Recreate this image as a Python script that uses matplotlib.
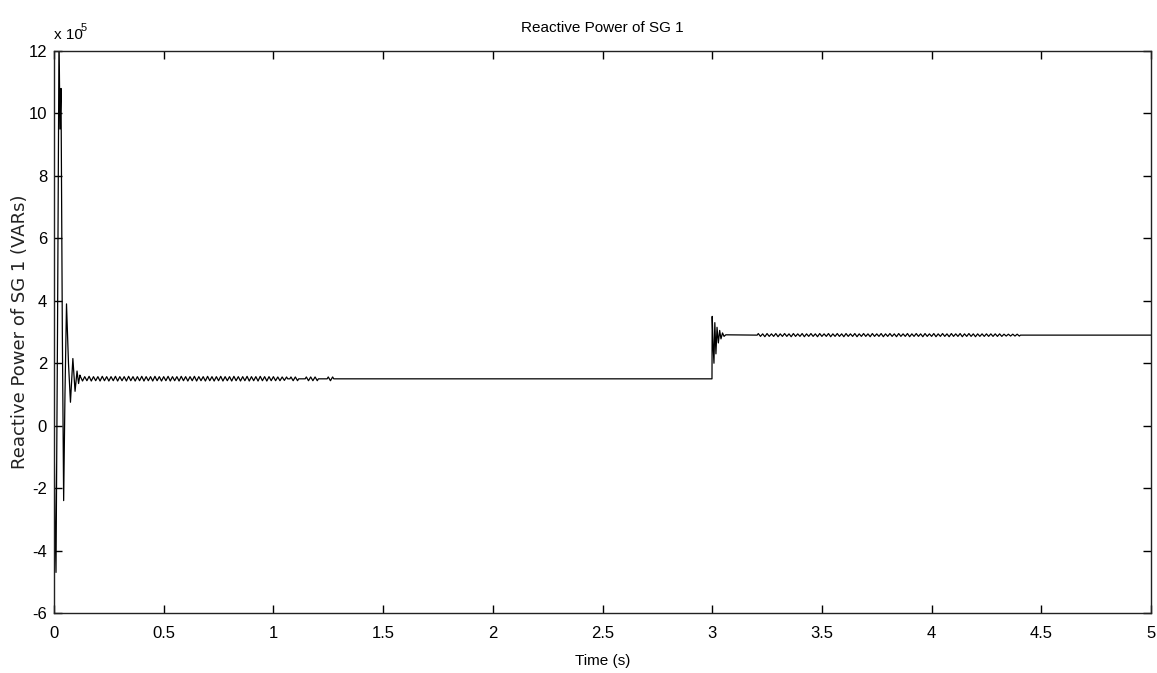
import numpy as np
import matplotlib
matplotlib.use("Agg")
import matplotlib.pyplot as plt

# ---------------- data (reactive power in units of 1e5 VAR) ----------------
# initial transient (time s, value)
t_start = [0, 0.0046, 0.0091, 0.016, 0.0228, 0.0273, 0.0319, 0.038, 0.044,
           0.050, 0.057, 0.066, 0.075, 0.086, 0.096, 0.105, 0.112, 0.118]
q_start = [0, -3.0, -4.7, 3.0, 12.5, 9.5, 10.8, 3.0, -2.4,
           1.0, 3.9, 2.0, 0.75, 2.15, 1.1, 1.75, 1.35, 1.62]

# 50 Hz ripple after the start transient (one value per half-cycle, 0.12 s .. 1.06 s)
ripple1_t0 = 0.12
ripple1 = [1.58, 1.43, 1.57, 1.44, 1.58, 1.43, 1.57, 1.44, 1.57, 1.43, 1.58, 1.44, 1.57, 1.43, 1.57, 1.44, 1.58, 1.43, 1.57, 1.44,
           1.57, 1.43, 1.58, 1.44, 1.57, 1.43, 1.57, 1.44, 1.58, 1.43, 1.57, 1.44, 1.57, 1.43, 1.58, 1.44, 1.57, 1.43, 1.57, 1.44,
           1.58, 1.43, 1.57, 1.44, 1.57, 1.43, 1.58, 1.44, 1.57, 1.43, 1.57, 1.44, 1.58, 1.43, 1.57, 1.44, 1.57, 1.43, 1.58, 1.44,
           1.57, 1.43, 1.57, 1.44, 1.58, 1.43, 1.57, 1.44, 1.57, 1.43, 1.58, 1.44, 1.57, 1.43, 1.57, 1.44, 1.58, 1.43, 1.57, 1.44,
           1.57, 1.43, 1.58, 1.44, 1.57, 1.43, 1.57, 1.44, 1.57, 1.44, 1.56, 1.44, 1.56, 1.45, 1.56]
# intermittent ripple patches (start time, values)
patch_starts = [1.08, 1.15, 1.25]
patch_vals = [[1.56, 1.44, 1.56, 1.44],
              [1.56, 1.44, 1.56, 1.44, 1.56, 1.44],
              [1.56, 1.44, 1.56]]
level1 = 1.5

# step at t = 3 s
t_step = [2.999, 3.000, 3.004, 3.008, 3.012, 3.017, 3.022, 3.028, 3.034, 3.040, 3.047, 3.054, 3.062]
q_step = [1.5, 3.5, 2.6, 2.0, 3.3, 2.3, 3.15, 2.65, 3.05, 2.78, 2.97, 2.86, 2.91]
level2 = 2.9

# ripple after the step (3.21 s .. 4.40 s)
ripple2_t0 = 3.21
ripple2 = [2.95, 2.86, 2.94, 2.85, 2.95, 2.86, 2.94, 2.86, 2.95, 2.85, 2.94, 2.86, 2.95, 2.86, 2.94, 2.85, 2.95, 2.86, 2.94, 2.86,
           2.95, 2.85, 2.94, 2.86, 2.95, 2.86, 2.94, 2.85, 2.95, 2.86, 2.94, 2.86, 2.95, 2.85, 2.94, 2.86, 2.95, 2.86, 2.94, 2.85,
           2.95, 2.86, 2.94, 2.86, 2.95, 2.85, 2.94, 2.86, 2.95, 2.86, 2.94, 2.85, 2.95, 2.86, 2.94, 2.86, 2.95, 2.85, 2.94, 2.86,
           2.95, 2.86, 2.94, 2.85, 2.95, 2.86, 2.94, 2.86, 2.95, 2.85, 2.94, 2.86, 2.95, 2.86, 2.94, 2.85, 2.95, 2.86, 2.94, 2.86,
           2.95, 2.85, 2.94, 2.86, 2.95, 2.86, 2.94, 2.85, 2.95, 2.86, 2.94, 2.86, 2.95, 2.85, 2.94, 2.86, 2.95, 2.86, 2.94, 2.85,
           2.94, 2.86, 2.94, 2.86, 2.94, 2.86, 2.94, 2.86, 2.94, 2.86, 2.94, 2.86, 2.93, 2.87, 2.93, 2.87, 2.93, 2.87, 2.93, 2.87]
t_end = 5.0
half_period = 0.01

x_ticks = [0, 0.5, 1, 1.5, 2, 2.5, 3, 3.5, 4, 4.5, 5]
x_tick_labels = ["0", "0.5", "1", "1.5", "2", "2.5", "3", "3.5", "4", "4.5", "5"]
y_ticks = [-6, -4, -2, 0, 2, 4, 6, 8, 10, 12]

# ---------------- assemble series ----------------
T = list(t_start)
Q = list(q_start)
T += list(ripple1_t0 + half_period * np.arange(len(ripple1)))
Q += ripple1
t_last = T[-1]
T.append(t_last + 0.005); Q.append(level1)
for ps, pv in zip(patch_starts, patch_vals):
    T.append(ps - 0.005); Q.append(level1)
    T += list(ps + half_period * np.arange(len(pv)))
    Q += pv
    T.append(T[-1] + 0.005); Q.append(level1)
T += t_step; Q += q_step
T.append(ripple2_t0 - 0.005); Q.append(level2)
T += list(ripple2_t0 + half_period * np.arange(len(ripple2)))
Q += ripple2
T.append(T[-1] + 0.005); Q.append(level2)
T.append(t_end); Q.append(level2)

# ---------------- plot ----------------
narrow = ["Liberation Sans Narrow", "Liberation Sans", "DejaVu Sans"]

fig = plt.figure(figsize=(11.57, 6.73), dpi=100)
ax = fig.add_axes([54 / 1157, (673 - 613) / 673, (1151 - 54) / 1157, (613 - 51) / 673])
ax.plot(T, Q, color="black", linewidth=0.9)

ax.set_xlim(0, 5)
ax.set_ylim(-6, 12)
ax.set_xticks(x_ticks)
ax.set_xticklabels(x_tick_labels)
ax.set_yticks(y_ticks)
ax.set_yticklabels([str(v) for v in y_ticks])
ax.tick_params(direction="in", length=6, width=1, top=True, right=True,
               labelsize=12, colors="black")
ax.tick_params(axis="x", pad=9)
ax.tick_params(axis="y", pad=5)
for lab in ax.get_xticklabels() + ax.get_yticklabels():
    lab.set_family(narrow)
for sp in ax.spines.values():
    sp.set_linewidth(1.0)
    sp.set_color("#222222")

ax.set_title("Reactive Power of SG 1", family=narrow, fontsize=11, pad=14)
ax.set_xlabel("Time (s)", family=narrow, fontsize=11, labelpad=10)
fig.text(20 / 1157, 1 - 332 / 673, "Reactive Power of SG 1 (VARs)", family="DejaVu Sans",
         fontsize=13, rotation=90, ha="center", va="center", color="#222222")

ax.text(0, 1.016, "x 10", transform=ax.transAxes, ha="left", va="bottom",
        family=narrow, fontsize=11)
ax.text(0.0245, 1.032, "5", transform=ax.transAxes, ha="left", va="bottom",
        family=narrow, fontsize=8)

fig.savefig("out.png", dpi=100, facecolor="white")
